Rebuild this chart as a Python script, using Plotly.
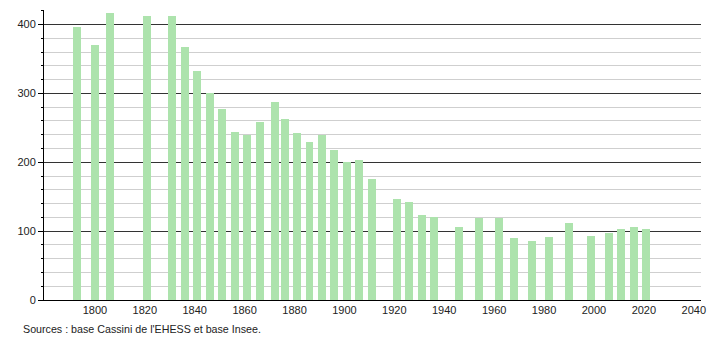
import plotly.graph_objects as go

years = [1793, 1800, 1806, 1821, 1831, 1836, 1841, 1846, 1851, 1856, 1861, 1866,
         1872, 1876, 1881, 1886, 1891, 1896, 1901, 1906, 1911, 1921, 1926, 1931,
         1936, 1946, 1954, 1962, 1968, 1975, 1982, 1990, 1999, 2006, 2011, 2016, 2021]
population = [396, 370, 416, 413, 413, 367, 332, 300, 277, 244, 239, 259,
              287, 263, 242, 229, 239, 218, 200, 203, 176, 146, 142, 123,
              120, 106, 119, 119, 90, 86, 92, 112, 93, 97, 103, 106, 103]
x_ticks = [1800, 1820, 1840, 1860, 1880, 1900, 1920, 1940, 1960, 1980, 2000, 2020, 2040]
y_ticks = [0, 100, 200, 300, 400]
source_text = "Sources : base Cassini de l'EHESS et base Insee."

fig = go.Figure()
fig.add_trace(go.Bar(
    x=years, y=population, width=3.2,
    marker=dict(color="#ade3ad", line=dict(width=0)),
    hoverinfo="x+y",
))

fig.update_layout(
    width=710, height=340,
    margin=dict(l=44, r=9, t=10, b=40, autoexpand=False),
    plot_bgcolor="white", paper_bgcolor="white",
    font=dict(family="Liberation Sans, Arial, sans-serif", size=11, color="#222"),
    showlegend=False,
    bargap=0,
    xaxis=dict(
        range=[1779.6, 2042.9], automargin=False,
        tickmode="array", tickvals=x_ticks, ticktext=[str(t) for t in x_ticks],
        showgrid=False, zeroline=False,
        showline=True, linecolor="#000", linewidth=1,
        ticks="", ticklen=0,
    ),
    yaxis=dict(
        range=[0, 421], automargin=False,
        tickmode="array", tickvals=y_ticks, ticktext=[str(t) for t in y_ticks],
        showgrid=True, gridcolor="#333", gridwidth=1,
        zeroline=False,
        showline=True, linecolor="#000", linewidth=1,
        ticks="outside", ticklen=5, tickcolor="#000",
        minor=dict(dtick=20, showgrid=True, gridcolor="#cfcfcf", gridwidth=1,
                   ticks="outside", ticklen=2, tickcolor="#000"),
    ),
)

fig.add_annotation(
    text=source_text, xref="paper", yref="paper",
    x=-23/657, y=-29/290, xanchor="left", yanchor="middle",
    showarrow=False, font=dict(size=10.7, color="#222"),
)

fig.write_html("out.html")
